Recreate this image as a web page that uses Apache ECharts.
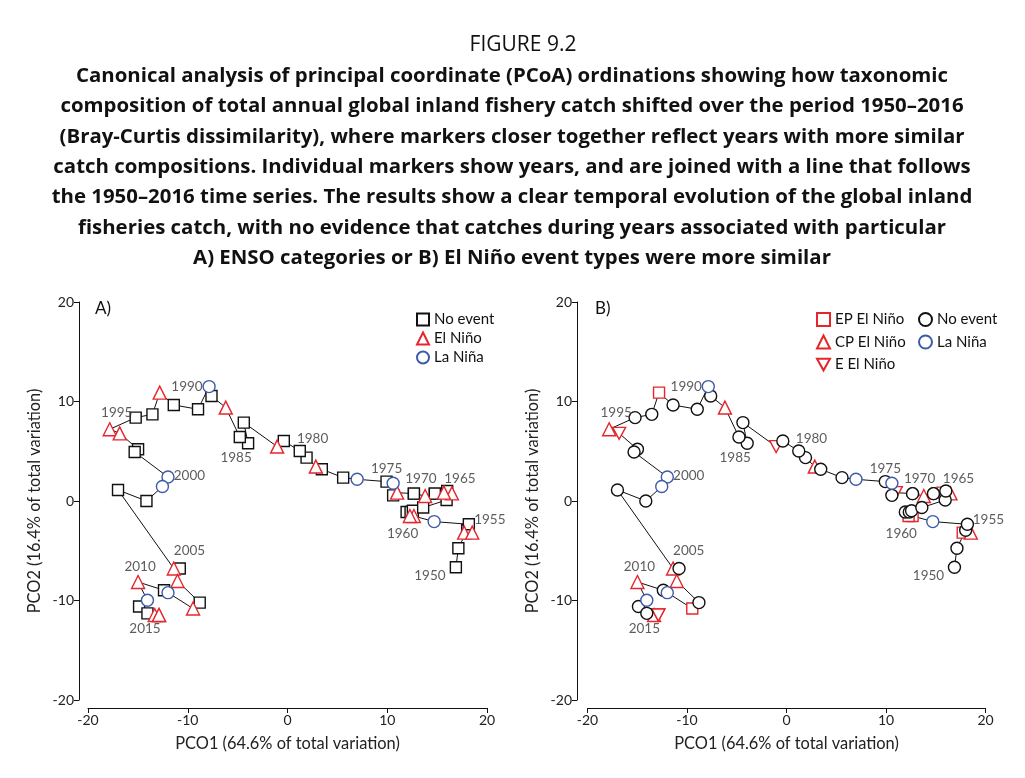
<!DOCTYPE html>
<html>
<head>
<meta charset="utf-8">
<script src="https://cdn.jsdelivr.net/npm/echarts@6.0.0/dist/echarts.min.js"></script>
<style>
html,body{margin:0;padding:0;background:#fff;}
#chart{width:1025px;height:778px;}
</style>
</head>
<body>
<div id="chart"></div>
<script>
// ---------------- DATA ----------------
const years = [1950,1951,1952,1953,1954,1955,1956,1957,1958,1959,
               1960,1961,1962,1963,1964,1965,1966,1967,1968,1969,
               1970,1971,1972,1973,1974,1975,1976,1977,1978,1979,
               1980,1981,1982,1983,1984,1985,1986,1987,1988,1989,
               1990,1991,1992,1993,1994,1995,1996,1997,1998,1999,
               2000,2001,2002,2003,2004,2005,2006,2007,2008,2009,
               2010,2011,2012,2013,2014,2015,2016];
const pco1 = [16.88,17.13,18.01,17.71,18.52,18.18,14.70,12.67,12.27,11.94,
              12.34,12.57,13.60,15.95,16.01,16.48,15.68,14.77,14.77,13.80,
              12.67,12.67,10.99,10.59,10.59,9.93,6.98,5.58,3.44,2.84,
              1.91,1.23,-0.37,-1.04,-4.38,-3.95,-4.78,-6.19,-7.62,-7.86,
              -8.97,-11.40,-12.81,-13.54,-15.22,-17.82,-16.82,-14.98,-15.32,-11.98,
              -12.54,-14.14,-16.99,-11.40,-10.80,-11.03,-8.80,-9.47,-11.98,-12.38,
              -14.98,-14.04,-14.88,-14.04,-13.31,-12.88,-12.88];
const pco2 = [-6.66,-4.75,-2.94,-3.18,-3.18,-2.34,-2.07,-1.51,-1.51,-1.11,
              -1.11,-0.98,-0.66,0.10,1.01,0.77,0.84,0.74,0.74,0.50,
              0.74,0.74,0.84,0.57,1.78,1.95,2.18,2.35,3.19,3.46,
              4.36,5.03,6.03,5.47,7.88,5.80,6.43,9.39,10.55,11.50,
              9.22,9.65,10.89,8.71,8.38,7.21,6.80,5.20,4.92,2.41,
              1.45,0.00,1.11,-6.79,-6.79,-8.04,-10.21,-10.81,-9.21,-8.97,
              -8.14,-9.98,-10.61,-11.29,-11.46,-11.46,-11.46];
// Panel A: N = No event, E = El Niño, L = La Niña
const ensoA = ['N','N','N','E','E','N','L','E','E','N',
               'N','N','N','N','N','E','E','N','N','E',
               'N','N','E','N','L','N','L','N','N','E',
               'N','N','N','E','N','N','N','E','N','L',
               'N','N','E','N','N','E','E','N','N','L',
               'L','N','N','E','N','E','N','E','L','N',
               'E','L','N','N','E','E','E'];
// Panel B: EP / CP / E El Niño, N = No event, L = La Niña
const ensoB = ['N','N','N','EP','CP','N','L','EP','EP','N',
               'N','N','N','N','N','CP','EP','N','N','CP',
               'N','N','E','N','L','N','L','N','N','CP',
               'N','N','N','E','N','N','N','CP','N','L',
               'N','N','EP','N','N','CP','E','N','N','L',
               'L','N','N','CP','N','CP','N','EP','L','N',
               'CP','L','N','N','CP','E','E'];
const labelYears = [1950,1955,1960,1965,1970,1975,1980,1985,1990,1995,2000,2005,2010,2015];
const xName = 'PCO1 (64.6% of total variation)';
const yName = 'PCO2 (16.4% of total variation)';
const titleTop = 'FIGURE 9.2';
const titleLines = [
 'Canonical analysis of principal coordinate (PCoA) ordinations showing how taxonomic',
 'composition of total annual global inland fishery catch shifted over the period 1950–2016',
 '(Bray-Curtis dissimilarity), where markers closer together reflect years with more similar',
 'catch compositions. Individual markers show years, and are joined with a line that follows',
 'the 1950–2016 time series. The results show a clear temporal evolution of the global inland',
 'fisheries catch, with no evidence that catches during years associated with particular',
 'A) ENSO categories or B) El Niño event types were more similar'
];
const catsA = [['N','No event'],['E','El Niño'],['L','La Niña']];
const catsB = [['EP','EP El Niño'],['CP','CP El Niño'],['E','E El Niño'],['N','No event'],['L','La Niña']];

// ---------------- STYLE ----------------
const FONT = 'Lato';
const TFONT = 'Open Sans';
const RED = '#e5262c', BLUE = '#3d5ba9', BLACK = '#111';
const styleA = {
  N: {symbol:'rect', color:BLACK, size:11},
  E: {symbol:'triangle', color:RED, size:13},
  L: {symbol:'circle', color:BLUE, size:12}
};
const styleB = {
  EP:{symbol:'rect', color:RED, size:11},
  CP:{symbol:'triangle', color:RED, size:13},
  E: {symbol:'path://M0,0 L10,0 L5,9 Z', color:RED, size:[13,12]},
  N: {symbol:'circle', color:BLACK, size:12},
  L: {symbol:'circle', color:BLUE, size:12}
};
const labelOffsets = {
  1950:[-26,8],1955:[21,-5],1960:[-8,22],1965:[8,-15],1970:[7,-15],1975:[0,-13],
  1980:[6,-19],1985:[-12,14],1990:[-11,-23],1995:[7,-17],2000:[27,-11],
  2005:[12,-30],2010:[2,-15],2015:[-14,14]
};

const pts = years.map((y,i)=>[pco1[i],pco2[i]]);

function axisPair(gi){
  const common = {
    min:-20,max:20,interval:10,gridIndex:gi,
    axisLine:{show:true,onZero:false,lineStyle:{color:BLACK,width:1}},
    axisTick:{show:true,length:5,lineStyle:{color:BLACK}},
    axisLabel:{color:'#222',fontSize:14,fontFamily:FONT},
    splitLine:{show:false},
    nameTextStyle:{color:'#222',fontSize:16.4,fontFamily:FONT}
  };
  return {
    x: Object.assign({}, common, {type:'value',position:'bottom',offset:8,name:xName,nameLocation:'middle',nameGap:28,axisLabel:Object.assign({},common.axisLabel,{margin:5})}),
    y: Object.assign({}, common, {type:'value',position:'left',offset:9,name:yName,nameLocation:'middle',nameGap:36,axisLabel:Object.assign({},common.axisLabel,{margin:5})})
  };
}
const a0 = axisPair(0), a1 = axisPair(1);

const series = [];
function addPanel(gi, enso, cats, styles, prefix){
  series.push({
    type:'line', xAxisIndex:gi, yAxisIndex:gi, data:pts, symbol:'none',
    lineStyle:{color:BLACK,width:1}, z:1, silent:true, animation:false
  });
  cats.forEach(([code,name])=>{
    const s = styles[code];
    series.push({
      type:'scatter', name: prefix+name, xAxisIndex:gi, yAxisIndex:gi,
      symbol:s.symbol, symbolSize:s.size,
      itemStyle:{color:'#fff',borderColor:s.color,borderWidth:1.4,opacity:1},
      data: pts.filter((p,i)=>enso[i]===code), z:3, animation:false
    });
  });
  series.push({
    type:'scatter', xAxisIndex:gi, yAxisIndex:gi, symbolSize:0, z:4, silent:true, animation:false,
    data: labelYears.map(y=>{
      const i = years.indexOf(y);
      return {value:pts[i], label:{show:true,position:'inside',offset:labelOffsets[y],formatter:String(y),
        color:'#333',fontSize:13.5,fontFamily:FONT}};
    })
  });
}
addPanel(0, ensoA, catsA, styleA, '');
addPanel(1, ensoB, catsB, styleB, 'B:');

const legText = {color:'#111',fontSize:15,fontFamily:FONT,lineHeight:15};
const titleGraphics = [
  {type:'text',x:523,y:45,style:{text:titleTop,textAlign:'center',textVerticalAlign:'middle',fontSize:21,fontFamily:TFONT,fill:'#111'}}
].concat(titleLines.map((t,i)=>({
  type:'text',x:512,y:76+i*30.4,
  style:{text:t,textAlign:'center',textVerticalAlign:'middle',fontSize:20.4,fontWeight:'bold',fontFamily:TFONT,fill:'#111'}
})));

const option = {
  backgroundColor:'#fff',
  animation:false,
  grid:[
    {left:88,top:302,width:399,height:398},
    {left:587.5,top:302,width:398,height:398}
  ],
  xAxis:[a0.x,a1.x],
  yAxis:[a0.y,Object.assign({},a1.y,{offset:10.5})],
  legend:[
    {data:catsA.map(c=>c[1]),orient:'vertical',left:411,top:307,itemWidth:12,itemHeight:12,itemGap:4,
     textStyle:legText,selectedMode:false},
    {data:catsB.slice(0,3).map(c=>'B:'+c[1]),orient:'vertical',left:811,top:307,itemWidth:13,itemHeight:13,itemGap:7.5,
     textStyle:legText,selectedMode:false,formatter:n=>n.replace('B:','')},
    {data:catsB.slice(3).map(c=>'B:'+c[1]),orient:'vertical',left:913,top:307,itemWidth:13,itemHeight:13,itemGap:7.5,
     textStyle:legText,selectedMode:false,formatter:n=>n.replace('B:','')}
  ],
  graphic:titleGraphics.concat([
    {type:'text',left:95,top:300,style:{text:'A)',fontSize:17,fontFamily:FONT,fill:'#111'}},
    {type:'text',left:595,top:300,style:{text:'B)',fontSize:17,fontFamily:FONT,fill:'#111'}}
  ]),
  series: series
};
const chart = echarts.init(document.getElementById('chart'),null,{renderer:'canvas'});
chart.setOption(option);
</script>
</body>
</html>
